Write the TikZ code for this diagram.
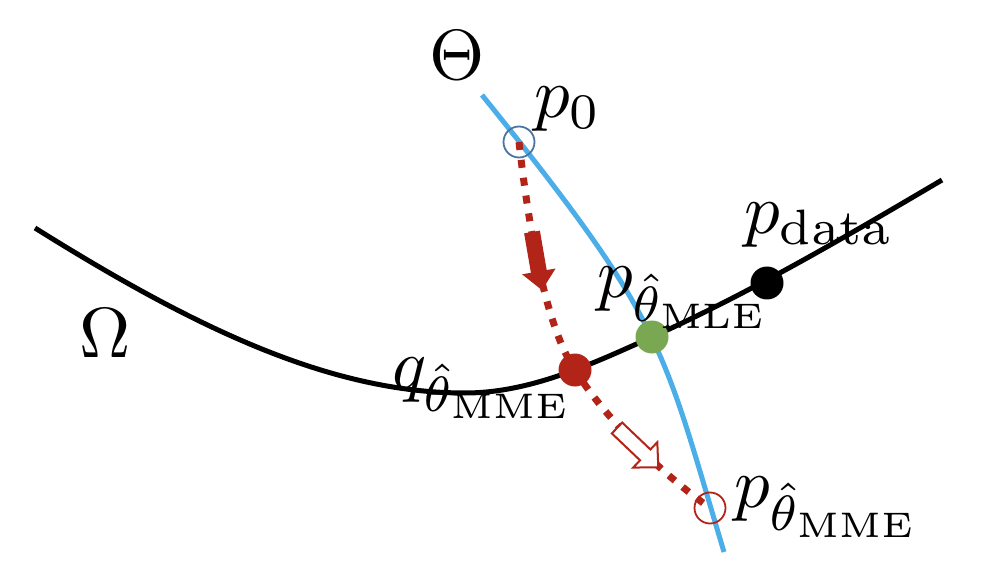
\documentclass[tikz,border=0pt]{standalone}
\definecolor{mred}{HTML}{B22418}
\definecolor{mgreen}{HTML}{7AA852}
\definecolor{mblue}{HTML}{4BAEE8}
\definecolor{mcirc}{HTML}{4A74A4}
\newcommand{\biglbl}[1]{\scalebox{7.1}{#1}}
\begin{document}
\begin{tikzpicture}[x=1pt,y=-1pt,
  lbl/.style={font=\fontsize{10}{12}\selectfont, inner sep=0pt, outer sep=0pt},
  dotnode/.style={circle, inner sep=0pt, minimum size=33pt},
  ringnode/.style={circle, inner sep=0pt, minimum size=31pt, line width=1.8pt, draw}]
\useasboundingbox (0,0) rectangle (994,588);
% manifold Omega
\draw[line width=5pt] (35,228) .. controls (195,328) and (330,393) .. (465,393)
  .. controls (530,393) and (592,364) .. (652,337)
  .. controls (752,292) and (852,233) .. (942,180);
% model family Theta
\draw[mblue, line width=5pt] (482,95) .. controls (665,322) and (661,342) .. (724,552);
% points
\node[ringnode, draw=mcirc] (p0) at (519,142) {};
\node[dotnode, fill=mred] (qm) at (575,370) {};
\node[dotnode, fill=mgreen] (pmle) at (652,337) {};
\node[dotnode, fill=black] (pdata) at (767,283) {};
\node[ringnode, draw=mred] (pmme) at (710,508) {};
% dotted path
\draw[mred, line width=7pt, dash pattern=on 8pt off 10pt]
  (p0.center) .. controls (530,240) and (548,330) .. (qm.center)
  .. controls (600,410) and (650,465) .. (pmme.center);
% filled arrow
\fill[mred, shift={(532,232)}, rotate=-80.2]
  (0,-8) -- (40,-8) -- (40,-17) -- (59,0) -- (40,17) -- (40,8) -- (0,8) -- cycle;
% open arrow
\draw[mred, fill=white, line width=2pt, line join=miter, shift={(617,428)}, rotate=-43.6]
  (0,-7.5) -- (39,-7.5) -- (39,-17.5) -- (57,0) -- (39,17.5) -- (39,7.5) -- (0,7.5) -- cycle;
% labels
\node[lbl, anchor=base] (theta) at (457,80) {\biglbl{$\Theta$}};
\node[lbl, anchor=base] (omega) at (105,357) {\biglbl{$\Omega$}};
\node[lbl, anchor=base west] (lp0) at (534,118) {\biglbl{$p_0$}};
\node[lbl, anchor=base west] (ldata) at (744,234) {\biglbl{$p_{\mathrm{data}}$}};
\node[lbl, anchor=base west] (lmle) at (597,298) {\biglbl{$p_{\hat\theta_{\mathrm{MLE}}}$}};
\node[lbl, anchor=base west] (lqmme) at (392,388) {\biglbl{$q_{\hat\theta_{\mathrm{MME}}}$}};
\node[lbl, anchor=base west] (lpmme) at (734,507) {\biglbl{$p_{\hat\theta_{\mathrm{MME}}}$}};
\end{tikzpicture}
\end{document}
